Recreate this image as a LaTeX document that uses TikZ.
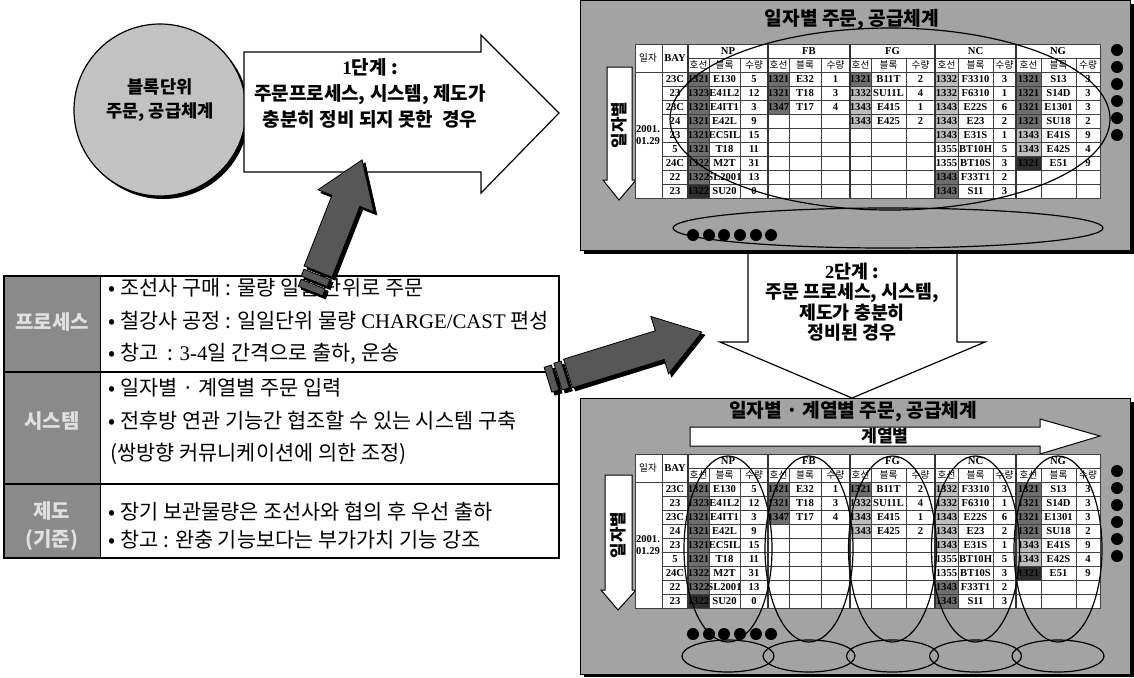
\documentclass[tikz,border=0pt]{standalone}
\usepackage{fontspec}
\setmainfont{Liberation Serif}
\newfontfamily\kr{Noto Sans CJK KR}
\usetikzlibrary{calc}
\definecolor{panelgray}{HTML}{A3A3A3}
\definecolor{circgray}{HTML}{C2C2C2}
\definecolor{labelgray}{HTML}{8A8A8A}
\definecolor{fatgray}{HTML}{575757}
\definecolor{darkcell}{HTML}{6E6E6E}
\definecolor{lightcell}{HTML}{BEBEBE}
\definecolor{blackcell}{HTML}{2E2E2E}
\tikzset{
  cell/.style={inner sep=0pt, font=\fontsize{5.3}{6}\selectfont\bfseries},
  hcell/.style={inner sep=0pt, font=\kr\fontsize{4.8}{6}\selectfont},
  gridline/.style={line width=0.3pt, draw=black!75},
  sepline/.style={line width=0.8pt, draw=black!80},
  outline/.style={draw=black, line width=0.6pt},
  bigtxt/.style={align=center, font=\kr\bfseries\fontsize{9.5}{13}\selectfont},
  circtxt/.style={align=center, font=\kr\bfseries\fontsize{8.8}{12}\selectfont},
  midtxt/.style={align=center, font=\kr\bfseries\fontsize{9.2}{9.8}\selectfont},
  titletxt/.style={font=\kr\bfseries\fontsize{9.6}{10}\selectfont},
  boxtxt/.style={anchor=west, inner sep=0pt, font=\kr\fontsize{10.4}{12}\selectfont},
  labeltxt/.style={align=center, text=white!88!black, font=\kr\bfseries\fontsize{10}{14}\selectfont},
  dot/.style={fill=black},
}
% one group of three columns: x0,x1,x2,x3,prefix,data
\newcommand\grp[6]{%
  \foreach \b/\blk/\q/\s [count=\i] in {#6}{%
    \pgfmathsetmacro\yy{28+14*(\i-1)}%
    \fill[fill=\s] (#1,\yy) rectangle (#2,\yy+14);%
    \node[cell] (#5a\i) at ({(#1+#2)/2},\yy+7) {\b};%
    \node[cell] (#5b\i) at ({(#2+#3)/2},\yy+7) {\blk};%
    \node[cell] (#5c\i) at ({(#3+#4)/2},\yy+7) {\q};%
  }}
\newcommand\mytable[2]{%
\begin{scope}[shift={(0,#1)}]
  \fill[white] (635,0) rectangle (1100,154);
  \foreach \k [count=\i] in {23C,23,23C,24,23,5,24C,22,23}
    \node[cell] (#2bay\i) at (675,{28+14*\i-7}) {\k};
  \grp{688}{709}{740}{768}{#2np}{1321/E130/5/darkcell,1323/E41L2/12/darkcell,1321/E4IT1/3/darkcell,1321/E42L/9/darkcell,1321/EC5IL/15/darkcell,1321/T18/11/darkcell,1322/M2T/31/darkcell,1322/SL2001/13/darkcell,1322/SU20/0/blackcell}
  \grp{768}{789}{821}{850}{#2fb}{1321/E32/1/darkcell,1321/T18/3/darkcell,1347/T17/4/darkcell}
  \grp{850}{871}{906}{935}{#2fg}{1321/B11T/2/darkcell,1332/SU11L/4/lightcell,1343/E415/1/lightcell,1343/E425/2/lightcell}
  \grp{935}{958}{993}{1016}{#2nc}{1332/F3310/3/lightcell,1332/F6310/1/lightcell,1343/E22S/6/lightcell,1343/E23/2/lightcell,1343/E31S/1/lightcell,1355/BT10H/5/white,1355/BT10S/3/white,1343/F33T1/2/darkcell,1343/S11/3/darkcell}
  \grp{1016}{1041}{1076}{1100}{#2ng}{1321/S13/3/darkcell,1321/S14D/3/darkcell,1321/E1301/3/darkcell,1321/SU18/2/darkcell,1343/E41S/9/lightcell,1343/E42S/4/lightcell,1321/E51/9/blackcell}
  \draw[gridline] (635,0) rectangle (1100,154);
  \foreach \x in {662,688,768,850,935,1016} \draw[gridline] (\x,0) -- (\x,154);
  \foreach \x in {709,740,789,821,871,906,958,993,1041,1076} \draw[gridline] (\x,14) -- (\x,154);
  \draw[gridline] (688,14) -- (1100,14);
  \draw[gridline] (635,28) -- (1100,28);
  \foreach \k in {1,...,8} \draw[gridline] (662,28+14*\k) -- (1100,28+14*\k);
  \foreach \x in {688,768,850,935,1016} \draw[sepline] (\x,0) -- (\x,154);
  \node[hcell] (#2h1) at (648,14) {일자};
  \node[cell] (#2h2) at (675,14) {BAY};
  \foreach \g/\cx [count=\i] in {NP/728,FB/809,FG/892.5,NC/975.5,NG/1058}
    \node[cell] (#2g\i) at (\cx,7) {\g};
  \foreach \x/\t [count=\i] in {698.5/호선,724.5/블록,754/수량,778.5/호선,805/블록,835.5/수량,860.5/호선,888.5/블록,920.5/수량,946.5/호선,975.5/블록,1004.5/수량,1028.5/호선,1058.5/블록,1088/수량}
    \node[hcell] (#2s\i) at (\x,21) {\t};
  \node[cell, align=center] (#2date) at (648,91) {2001.\\01.29};
\end{scope}}
% fat dark arrow: x,y of tail, angle, length
\newcommand\fatarrow[4]{%
  \foreach \dd/\col in {3/black,0/fatgray}{%
    \begin{scope}[shift={(#1+\dd,#2+\dd)}, rotate=#3]
      \filldraw[fill=\col, draw=black, line width=0.4pt] (22,-15) -- (#4-44,-15) -- (#4-44,-30) -- (#4,0) -- (#4-44,30) -- (#4-44,15) -- (22,15) -- cycle;
      \filldraw[fill=\col, draw=black, line width=0.4pt] (11.5,-14) -- (19,-14) -- (19,14) -- (11.5,14) -- cycle;
      \filldraw[fill=\col, draw=black, line width=0.4pt] (1,-13) -- (8.5,-13) -- (8.5,13) -- (1,13) -- cycle;
    \end{scope}}}

\begin{document}
\begin{tikzpicture}[x=0.5pt, y=-0.5pt]
\useasboundingbox (0,0) rectangle (1134,677);

% ---------- 2nd stage arrow (behind the panels)
\draw[outline, fill=white] (748,245) -- (957,245) -- (957,342) -- (985,342) -- (852,398) -- (720,342) -- (748,342) -- cycle;
\node[midtxt] (stage2) at (852,302) {{\rmfamily\bfseries 2}단계 :\\주문 프로세스, 시스템,\\제도가 충분히\\정비된 경우};

% ---------- top panel
\fill[black] (584,4) rectangle (1134,254);
\filldraw[fill=panelgray, draw=black, line width=0.5pt] (580,0) rectangle (1130,250);
\node[titletxt] (ttitle) at (852,20) {일자별 주문, 공급체계};
\draw[outline, line width=0.5pt, fill=white] (607,67) -- (632,67) -- (632,180) -- (636,180) -- (619,200) -- (603,180) -- (607,180) -- cycle;
\node[rotate=90, font=\kr\bfseries\fontsize{8.4}{9}\selectfont] (tdown) at (619,125) {일자별};
\mytable{44}{t}
\draw[line width=0.6pt] (890,119) ellipse (110pt and 45.5pt);
\draw[line width=0.6pt] (888,228) ellipse (107.5pt and 10pt);
\foreach \x [count=\i] in {693,709,724,740,756,771} \fill[dot] (\x,235) circle (3pt) coordinate (tdot\i);
\foreach \y [count=\i] in {50,67,84,101,118,135} \fill[dot] (1117,\y) circle (3pt) coordinate (trdot\i);

% ---------- bottom panel
\fill[black] (584,402) rectangle (1134,677);
\filldraw[fill=panelgray, draw=black, line width=0.5pt] (580,398) rectangle (1130,674);
\node[titletxt] (btitle) at (853,412) {일자별 · 계열별 주문, 공급체계};
\draw[outline, line width=0.5pt, fill=white] (690,427) -- (1040,427) -- (1040,419) -- (1100,436) -- (1040,454) -- (1040,446) -- (690,446) -- cycle;
\node[font=\kr\bfseries\fontsize{8.6}{9}\selectfont] (series) at (885,436.5) {계열별};
\draw[outline, line width=0.5pt, fill=white] (605,475) -- (632,475) -- (632,590) -- (636,590) -- (618,610) -- (601,590) -- (605,590) -- cycle;
\node[rotate=90, font=\kr\bfseries\fontsize{8.4}{9}\selectfont] (bdown) at (618,535) {일자별};
\mytable{454}{b}
\foreach \cx in {728,809,892.5,975.5,1058} \draw[line width=0.6pt] (\cx,549) ellipse (22pt and 46.5pt);
\foreach \cx in {728,809,892.5,975.5,1058} \draw[line width=0.6pt] (\cx,656) ellipse (23pt and 8pt);
\foreach \x [count=\i] in {693,709,724,740,756,771} \fill[dot] (\x,634) circle (3pt) coordinate (bdot\i);
\foreach \y [count=\i] in {471,488,505,522,539,556} \fill[dot] (1117,\y) circle (3pt) coordinate (brdot\i);

% ---------- circle and 1st stage arrow
\fill[black] (163,113) circle (43pt);
\draw[outline, fill=circgray] (160,110) circle (43pt);
\node[circtxt] (circ) at (160,100) {블록단위\\주문, 공급체계};
\draw[outline, fill=white] (244,52) -- (481,52) -- (481,35) -- (559,113) -- (481,193) -- (481,172) -- (244,172) -- cycle;
\node[bigtxt] (stage1) at (370,93) {{\rmfamily\bfseries 1}단계 :\\주문프로세스, 시스템, 제도가\\충분히 정비 되지 못한 \ 경우};

% ---------- left box
\fill[labelgray] (4,276) rectangle (100,558);
\draw[outline] (4,276) rectangle (559,558);
\draw[outline] (4,372) -- (559,372);
\draw[outline] (4,484) -- (559,484);
\draw[line width=0.4pt] (100,276) -- (100,558);
\node[labeltxt] (lproc) at (52,322) {프로세스};
\node[labeltxt] (lsys) at (52,421) {시스템};
\node[labeltxt] (lrule) at (52,526) {제도\\(기준)};
\node[boxtxt] (p1) at (108,288) {• 조선사 구매 : 물량 일일 단위로 주문};
\node[boxtxt] (p2) at (108,321) {• 철강사 공정 : 일일단위 물량 {\rmfamily CHARGE/CAST} 편성};
\node[boxtxt] (p3) at (108,354) {• 창고 \ : {\rmfamily 3-4}일 간격으로 출하, 운송};
\node[boxtxt] (s1) at (108,388) {• 일자별 · 계열별 주문 입력};
\node[boxtxt] (s2) at (108,421) {• 전후방 연관 기능간 협조할 수 있는 시스템 구축};
\node[boxtxt] (s3) at (110,454) {(쌍방향 커뮤니케이션에 의한 조정)};
\node[boxtxt] (r1) at (108,512) {• 장기 보관물량은 조선사와 협의 후 우선 출하};
\node[boxtxt] (r2) at (108,540) {• 창고 : 완충 기능보다는 부가가치 기능 강조};

% ---------- fat arrows
\fatarrow{310}{292}{68.5}{142}
\fatarrow{547}{380}{17.2}{162}
\end{tikzpicture}
\end{document}
